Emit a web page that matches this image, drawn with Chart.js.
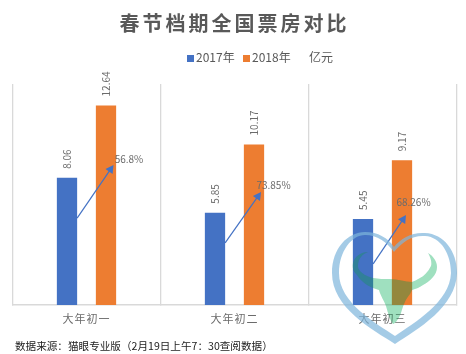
<!DOCTYPE html>
<html>
<head>
<meta charset="utf-8">
<script src="https://cdn.jsdelivr.net/npm/chart.js@4"></script>
<style>
  body { margin: 0; background: #fff; font-family: "Noto Sans CJK SC", sans-serif; }
  #wrap { position: relative; width: 466px; height: 354px; overflow: hidden; }
  canvas { position: absolute; left: 0; top: 0; }
  #title { position: absolute; left: 0; top: 8px; width: 469px; text-align: center; font-size: 20px; line-height: 30px; font-weight: bold; letter-spacing: 3px; color: #595959; }
  #legend { position: absolute; left: 187px; top: 48px; height: 18px; line-height: 18px; font-size: 12px; color: #595959; white-space: nowrap; }
  #legend i { display: inline-block; width: 7px; height: 7px; margin-right: 2px; }
  #legend span { position: absolute; top: 0; }
  #source { position: absolute; left: 15px; top: 338px; font-size: 10.6px; line-height: 16px; color: #222; white-space: nowrap; }
  svg { position: absolute; left: 0; top: 0; }
  #logoMul { mix-blend-mode: multiply; }
</style>
</head>
<body>
<div id="wrap">
  <canvas id="chart" width="466" height="354"></canvas>
  <div id="title"></div>
  <div id="legend"></div>
  <div id="source"></div>
  <svg id="logoMul" width="466" height="354">
    <path class="bull" fill="#c7e8d7"/>
  </svg>
  <svg width="466" height="354">
    <path class="bull" fill="#28c878" fill-opacity="0.25"/>
    <path fill-rule="evenodd" fill="#7db5dc" fill-opacity="0.7" d="M395 344 C372 329 332 308 332 273 C332 248 348 232 365 232 C378 232 388 238 394 247 C401 238 412 232 425 233 C444 234 457 251 457 273 C456 307 418 329 395 344 Z M395 336 C376 323 339 303 339 273 C339 251 352 235 365 235 C377 235 387 242 394 252 C402 242 412 235 425 236 C441 237 451 254 451 273 C450 302 414 323 395 336 Z"/>
  </svg>
</div>
<script>
const categories = ['大年初一', '大年初二', '大年初三'];
const series2017 = [8.06, 5.85, 5.45];
const series2018 = [12.64, 10.17, 9.17];
const growthLabels = ['56.8%', '73.85%', '68.26%'];
const arrowFrom = [5.5, 3.93, 2.6];
const arrowTo = [8.87, 7.16, 5.7];
const growthLabelAt = [9.25, 7.6, 6.5];

const titleText = '春节档期全国票房对比';
const unitText = '亿元';
const sourceText = '数据来源：猫眼专业版（2月19日上午7：30查阅数据）';
const blue = '#4472c4';
const orange = '#ed7d31';

// watermark outline, used by both blend layers
const bullPath = 'M368 252 C361 252 355 256 353 263 C352 269 354 272 357 275 C360 280 366 285 373 288 ' +
  'L379 290 C381 297 384 300 386 306 C388 313 390 320 393 324 C396 323 399 318 401 313 ' +
  'C403 306 405 300 410 294 L412 290 C416 289 420 287 423 285 C430 281 437 275 437 267 ' +
  'C437 261 433 256 428 253 C431 258 432 263 431 266 C428 272 424 276 420 278 C417 280 414 281 412 282 ' +
  'C405 282 398 279 390 279 C384 279 378 279 373 278 C369 277 367 276 365 275 C361 272 358 270 358 266 ' +
  'C358 259 362 254 368 252 Z';
document.querySelectorAll('.bull').forEach((p) => p.setAttribute('d', bullPath));

document.getElementById('title').textContent = titleText;
document.getElementById('source').textContent = sourceText;
document.getElementById('legend').innerHTML =
  '<span style="left:0"><i style="background:' + blue + '"></i>2017年</span>' +
  '<span style="left:56px"><i style="background:' + orange + '"></i>2018年</span>' +
  '<span style="left:122px">' + unitText + '</span>';

// extras the library has no option for: rotated value labels + growth arrows
const extras = {
  id: 'extras',
  beforeDraw(chart) {
    chart.ctx.letterSpacing = '1px'; // only the tick labels want this
  },
  afterDatasetsDraw(chart) {
    const ctx = chart.ctx;
    const y = chart.scales.y;
    const m0 = chart.getDatasetMeta(0).data;
    const m1 = chart.getDatasetMeta(1).data;
    const endOffset = [7.5, 7, 4];
    const labelOffset = [23, 19.5, 11.5];

    ctx.letterSpacing = '0px';
    ctx.save();
    ctx.fillStyle = '#6b6b6b';
    ctx.font = '10px "Noto Sans CJK SC"';
    ctx.textBaseline = 'middle';
    [m0, m1].forEach((bars, d) => {
      bars.forEach((bar, i) => {
        const v = chart.data.datasets[d].data[i];
        ctx.save();
        ctx.translate(bar.x, bar.y - 9);
        ctx.rotate(-Math.PI / 2);
        ctx.textAlign = 'left';
        ctx.fillText(v.toFixed(2), 0, 0);
        ctx.restore();
      });
    });

    categories.forEach((c, i) => {
      const x1 = m0[i].x + m0[i].width / 2;
      const y1 = y.getPixelForValue(arrowFrom[i]);
      const x2 = m1[i].x + endOffset[i];
      const y2 = y.getPixelForValue(arrowTo[i]);
      const a = Math.atan2(y2 - y1, x2 - x1);
      ctx.strokeStyle = blue;
      ctx.fillStyle = blue;
      ctx.lineWidth = 1.2;
      ctx.beginPath();
      ctx.moveTo(x1, y1);
      ctx.lineTo(x2 - 5 * Math.cos(a), y2 - 5 * Math.sin(a));
      ctx.stroke();
      ctx.beginPath();
      ctx.moveTo(x2, y2);
      ctx.lineTo(x2 - 9 * Math.cos(a - 0.5), y2 - 9 * Math.sin(a - 0.5));
      ctx.lineTo(x2 - 9 * Math.cos(a + 0.5), y2 - 9 * Math.sin(a + 0.5));
      ctx.closePath();
      ctx.fill();

      ctx.fillStyle = '#6b6b6b';
      ctx.textAlign = 'center';
      ctx.fillText(growthLabels[i], m1[i].x + labelOffset[i], y.getPixelForValue(growthLabelAt[i]));
    });
    ctx.restore();
  }
};

new Chart(document.getElementById('chart').getContext('2d'), {
  type: 'bar',
  data: {
    labels: categories,
    datasets: [
      { label: '2017年', data: series2017, backgroundColor: blue },
      { label: '2018年', data: series2018, backgroundColor: orange }
    ]
  },
  options: {
    responsive: false,
    animation: false,
    layout: { padding: { left: 12.5, right: 9.5, top: 84, bottom: 0 } },
    datasets: { bar: { categoryPercentage: 0.527, barPercentage: 0.52 } },
    plugins: { legend: { display: false }, title: { display: false }, tooltip: { enabled: false } },
    scales: {
      x: {
        afterFit(scale) { scale.height = 49; },
        grid: { color: '#d9d9d9', lineWidth: 1.3, tickLength: 0, offset: true },
        border: { color: '#d9d9d9', width: 1.5 },
        ticks: { color: '#6b6b6b', padding: 7, font: { size: 11, family: '"Noto Sans CJK SC"' } }
      },
      y: { display: false, min: 0, max: 14 }
    }
  },
  plugins: [extras]
});
</script>
</body>
</html>
